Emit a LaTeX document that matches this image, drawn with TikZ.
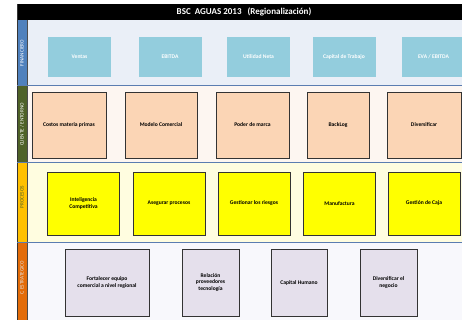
\documentclass[tikz,border=0pt]{standalone}
\usepackage{fontspec}
\setmainfont{Carlito}
\usetikzlibrary{positioning}
\definecolor{finfill}{HTML}{93CDDD}
\definecolor{clifill}{HTML}{FBD5B5}
\definecolor{profill}{HTML}{FFFF00}
\definecolor{estfill}{HTML}{E5E0EC}
\definecolor{finband}{HTML}{EAEFF7}
\definecolor{cliband}{HTML}{FDF6F1}
\definecolor{proband}{HTML}{FFFDE0}
\definecolor{estband}{HTML}{F8F8FC}
\definecolor{finlab}{HTML}{4F81BD}
\definecolor{clilab}{HTML}{4F6228}
\definecolor{prolab}{HTML}{FFC000}
\definecolor{estlab}{HTML}{E36C09}
\definecolor{sepline}{HTML}{5B7DB1}

\begin{document}
\begin{tikzpicture}
      [x=1pt,y=-1pt,
       box/.style={align=center,inner sep=1pt,font=\fontsize{5.6}{6.6}\selectfont\bfseries},
       finbox/.style={box,fill=finfill,text=white,minimum width=63pt,minimum height=40pt},
       clibox/.style={box,fill=clifill,draw=black!80,line width=0.8pt,minimum height=66pt},
       probox/.style={box,fill=profill,draw=black!80,line width=0.8pt,minimum width=72pt,minimum height=63pt},
       estbox/.style={box,fill=estfill,draw=black!80,line width=0.8pt,minimum width=57pt,minimum height=67pt},
       lbl/.style={rotate=90,inner sep=0pt,font=\fontsize{5.2}{5.5}\selectfont}]
      \useasboundingbox (0,0) rectangle (462,320);

      \fill[black] (17,4) rectangle (462,20);
      \fill[finband] (27,20) rectangle (462,86);
      \fill[cliband] (27,86) rectangle (462,163);
      \fill[proband] (27,163) rectangle (462,242);
      \fill[estband] (27,242) rectangle (462,320);
      \fill[finlab] (17,20) rectangle (27,86);
      \fill[clilab] (17,86) rectangle (27,163);
      \fill[prolab] (17,163) rectangle (27,242);
      \fill[estlab] (17,242) rectangle (27,320);
      \draw[black!80,line width=0.6pt] (17,4) -- (17,320);
      \draw[black!70,line width=0.6pt] (27,20) -- (27,320);
      \draw[sepline,line width=1pt] (17,86) -- (462,86);
      \draw[sepline,line width=1pt] (17,163) -- (462,163);
      \draw[sepline,line width=1pt] (17,242) -- (462,242);

      \node[text=white,font=\fontsize{9}{10}\selectfont\bfseries] (title) at (244,12) {BSC\ \ AGUAS 2013\ \ \ (Regionalización)};

      \node[lbl,text=white] (lfin) at (22,53) {FINANCIERO};
      \node[lbl,text=white] (lcli) at (22,124.5) {CLIENTE / ENTORNO};
      \node[lbl,text=clilab] (lpro) at (22,197) {PROCESOS};
      \node[lbl,text=white!90!black] (lest) at (22,278) {C. ESTRATEGICO};

      \node[finbox] (ventas) at (79.5,57) {Ventas};
      \node[finbox] (ebitda) at (170,57) {EBITDA};
      \node[finbox] (utilidad) at (258.5,57) {Utilidad Neta};
      \node[finbox] (capital) at (344,57) {Capital de Trabajo};
      \node[finbox] (eva) at (433.5,57) {EVA / EBITDA};

      \node[clibox,minimum width=74pt] (costos) at (69,125) {Costos materia primas};
      \node[clibox,minimum width=72pt] (modelo) at (161,125) {Modelo Comercial};
      \node[clibox,minimum width=73pt] (poder) at (252.5,125) {Poder de marca};
      \node[clibox,minimum width=62pt] (backlog) at (338,125) {BackLog};
      \node[clibox,minimum width=74pt] (diversificar) at (424,125) {Diversificar};

      \node[probox] (inteligencia) at (83.5,203.5) {Inteligencia\\Competitiva};
      \node[probox] (asegurar) at (169,203.5) {Asegurar procesos};
      \node[probox] (riesgos) at (254,203.5) {Gestionar los riesgos};
      \node[probox] (manufactura) at (339.5,203.5) {Manufactura};
      \node[probox] (caja) at (424,203.5) {Gestión de Caja};

      \node[estbox,minimum width=84pt] (fortalecer) at (107,282.5) {Fortalecer equipo\\comercial a nivel regional};
      \node[estbox] (relacion) at (210.5,282.5) {Relación\\proveedores\\tecnología};
      \node[estbox,minimum width=56pt] (humano) at (299,282.5) {Capital Humano};
      \node[estbox] (negocio) at (388.5,282.5) {Diversificar el\\negocio};
    \end{tikzpicture}
\end{document}
